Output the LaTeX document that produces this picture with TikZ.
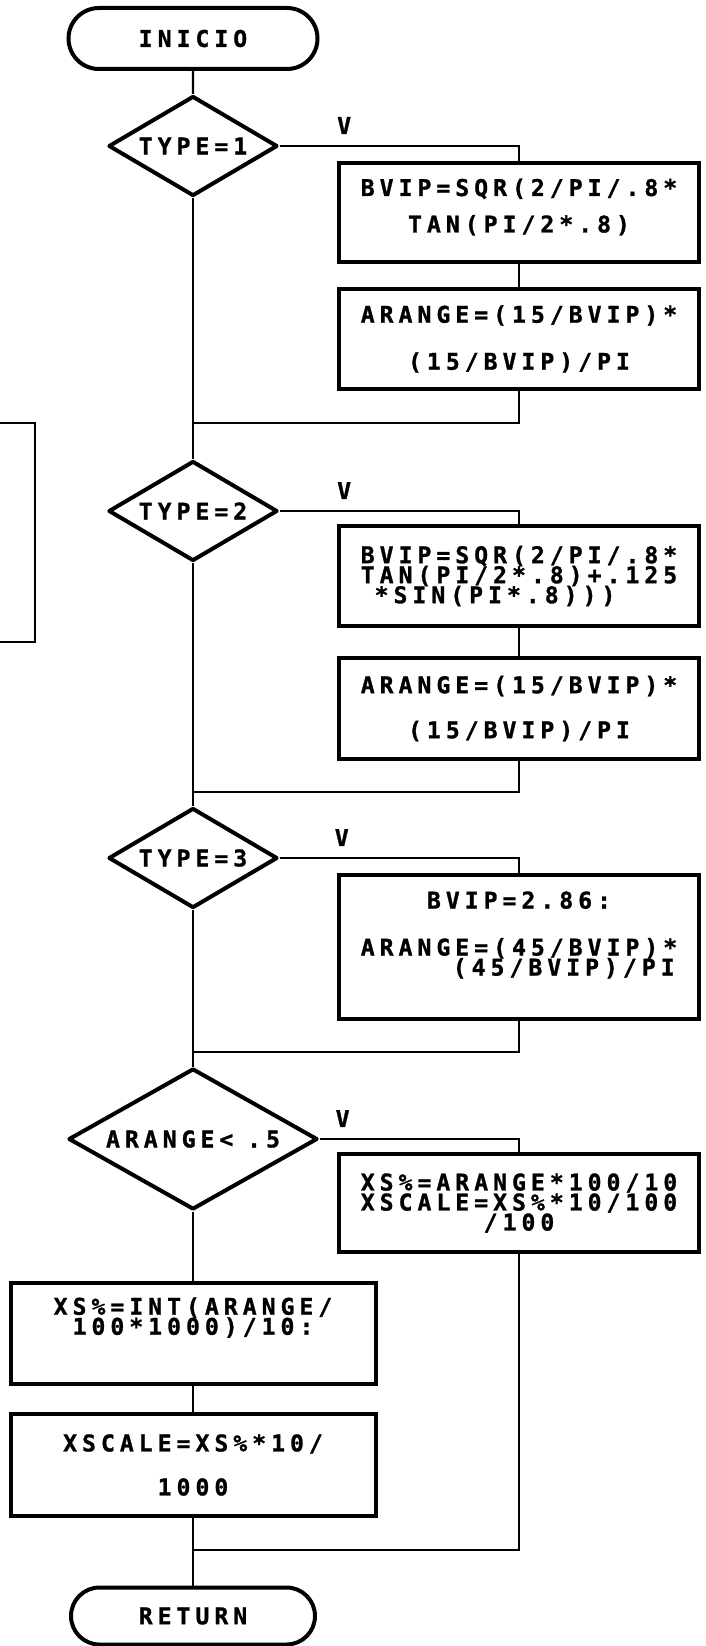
\documentclass[tikz,border=0pt]{standalone}
\usepackage{fontspec}
\newfontfamily\dotfont{DejaVu Sans Mono}[LetterSpace=22, BoldFeatures={FakeBold=1.2}]
\usetikzlibrary{positioning, shapes.geometric, shapes.misc}
\tikzstyle{codetext} =[font={\dotfont\bfseries\fontsize{23pt}{20pt}\selectfont\lineskiplimit=-30pt}, align=center, inner sep=0pt]
\tikzstyle{procbox} =[codetext, draw, line width=4pt, minimum width=360pt]
\tikzstyle{decision} =[codetext, diamond, draw, line width=4pt, line join=round, shape aspect=1.7, minimum width=169pt, minimum height=100pt]
\tikzstyle{terminal} =[codetext, rounded rectangle, draw, line width=4pt]
\tikzstyle{flow} =[line width=2.2pt]
\tikzstyle{vlabel} =[codetext, above=11pt]

\begin{document}
\begin{tikzpicture}[x=1pt, y=-1pt]
\useasboundingbox (0,0) rectangle (706,1646);

% main column
\node (inicio) [terminal, minimum width=249pt, minimum height=61pt] at (193,38.5) {INICIO};
\node (type1) [decision] at (193,146) {TYPE=1};
\node (type2) [decision] at (193,511) {TYPE=2};
\node (type3) [decision] at (193,858) {TYPE=3};
\node (arangeTest) [decision, minimum width=249pt, minimum height=141pt] at (193,1139) {ARANGE<\hphantom{X}.5};
\node (xsInt) [procbox, minimum width=365pt, minimum height=101pt] at (193,1333.5) {};
\node (xsIntText) [codetext] at ([yshift=16pt]xsInt.center) {XS\%=INT(ARANGE/\\100*1000)/10:};
\node (xscale) [procbox, minimum width=365pt, minimum height=102pt] at (193,1465) {XSCALE=XS\%*10/\\[24pt]1000};
\node (ret) [terminal, minimum width=244pt, minimum height=57pt] at (193,1616) {RETURN};

% right column
\node (bvip1) [procbox, minimum height=99pt] at (519,212) {};
\node (bvip1Text) [codetext] at ([yshift=5pt]bvip1.center) {BVIP=SQR(2/PI/.8*\\[16.5pt]TAN(PI/2*.8)};
\node (arange1) [procbox, minimum height=100pt] at (519,339) {ARANGE=(15/BVIP)*\\[27pt](15/BVIP)/PI};

\node (bvip2) [procbox, minimum height=100pt, align=left] at (519,576) {BVIP=SQR(2/PI/.8*\\TAN(PI/2*.8)+.125\\\hphantom{X}*SIN(PI*.8)))};
\node (arange2) [procbox, minimum height=101pt] at (519,708.5) {ARANGE=(15/BVIP)*\\[25pt](15/BVIP)/PI};

\node (bvip3) [procbox, minimum height=144pt] at (519,947) {};
\node (bvip3Text) [codetext] at ([yshift=12pt]bvip3.center) {BVIP=2.86:\\[27pt]ARANGE=(45/BVIP)*\\\hphantom{XXXXX}(45/BVIP)/PI};

\node (xsDiv) [procbox, minimum height=98pt] at (519,1203) {XS\%=ARANGE*100/10\\XSCALE=XS\%*10/100\\/100};

% joins on the main line
\coordinate (join1) at (193,423);
\coordinate (join2) at (193,792);
\coordinate (join3) at (193,1052);
\coordinate (join4) at (193,1550);

\draw[flow] (inicio) -- (type1);
\draw[flow] (type1) -- (type2);
\draw[flow] (type2) -- (type3);
\draw[flow] (type3) -- (arangeTest);
\draw[flow] (arangeTest) -- (xsInt);
\draw[flow] (xsInt) -- (xscale);
\draw[flow] (xscale) -- (ret);

\draw[flow] (type1.east) -| node[vlabel, pos=0.135] {V} (bvip1.north);
\draw[flow] (bvip1) -- (arange1);
\draw[flow] (arange1.south) |- (join1);

\draw[flow] (type2.east) -| node[vlabel, pos=0.135] {V} (bvip2.north);
\draw[flow] (bvip2) -- (arange2);
\draw[flow] (arange2.south) |- (join2);

\draw[flow] (type3.east) -| node[vlabel, pos=0.13] {V} (bvip3.north);
\draw[flow] (bvip3.south) |- (join3);

\draw[flow] (arangeTest.east) -| node[vlabel, pos=0.058] {V} (xsDiv.north);
\draw[flow] (xsDiv.south) |- (join4);

% box cut by the left edge
\draw[line width=2.5pt] (-5,423) -- (35,423) -- (35,642) -- (-5,642);

\end{tikzpicture}
\end{document}
